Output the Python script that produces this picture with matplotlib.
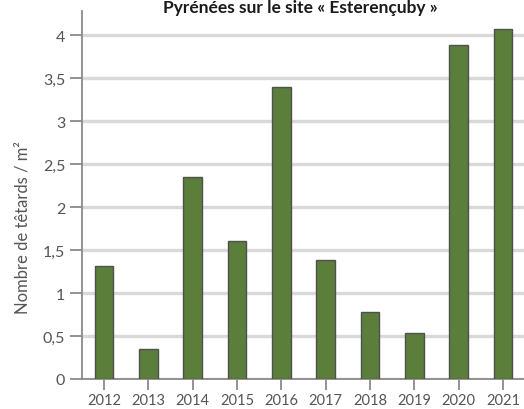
import matplotlib
matplotlib.use("Agg")
import matplotlib.pyplot as plt

years = ["2012", "2013", "2014", "2015", "2016", "2017", "2018", "2019", "2020", "2021"]
tadpoles = [1.31, 0.35, 2.35, 1.60, 3.40, 1.38, 0.78, 0.54, 3.88, 4.07]
y_ticks = [0, 0.5, 1, 1.5, 2, 2.5, 3, 3.5, 4]
y_tick_labels = ["0", "0,5", "1", "1,5", "2", "2,5", "3", "3,5", "4"]

plt.rcParams["font.family"] = ["Lato", "DejaVu Sans"]

fig = plt.figure(figsize=(5.24, 4.10), dpi=100)
ax = fig.add_axes([82 / 524, 1 - 380 / 410, 443 / 524, 368 / 410])

x = list(range(len(years)))
ax.bar(x, tadpoles, width=0.42, color="#5b7e3a", edgecolor="#505050",
       linewidth=1.0, zorder=3)

ax.set_xlim(-0.5, len(years) - 0.5)
ax.set_ylim(0, 4.28)
ax.set_yticks(y_ticks)
ax.set_yticklabels(y_tick_labels)
ax.set_xticks(x)
ax.set_xticklabels(years)

ax.grid(axis="y", color="#d9d9d9", linewidth=2.4, zorder=0)
ax.set_axisbelow(True)

for side in ("top", "right"):
    ax.spines[side].set_visible(False)
for side in ("left", "bottom"):
    ax.spines[side].set_color("#8a8a8a")
    ax.spines[side].set_linewidth(1.3)

ax.tick_params(axis="y", length=9, width=1.3, color="#8a8a8a",
               labelsize=11.5, labelcolor="#555555", pad=3)
ax.tick_params(axis="x", length=8, width=1.3, color="#8a8a8a",
               labelsize=10.5, labelcolor="#555555", pad=2)

fig.text(23 / 524, 1 - 228 / 410, "Nombre de têtards / m²", rotation=90,
         ha="center", va="center", fontsize=12, color="#555555")

fig.text(300 / 524, 1 - 8 / 410, "Pyrénées sur le site « Esterençuby »",
         ha="center", va="center", fontsize=12.5, fontweight="bold",
         color="#1a1a1a")

fig.savefig("out.png", dpi=100)
